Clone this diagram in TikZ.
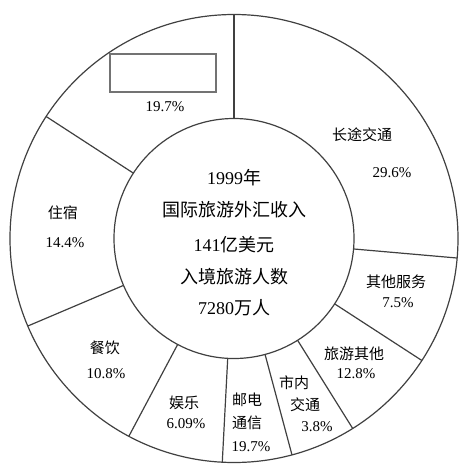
\documentclass[tikz,border=0pt]{standalone}
\usepackage{fontspec}
\setmainfont{Liberation Serif}
\newfontfamily\cjk{Noto Sans CJK SC}
\usetikzlibrary{positioning}
\tikzset{every picture/.style={line width=1.2pt,x=1pt,y=1pt},
  ring/.style={draw=black!75},
  mid/.style={font=\fontsize{18}{20}\selectfont,inner sep=0pt},
  lab/.style={font=\fontsize{15}{17}\selectfont,inner sep=0pt}}

\begin{document}
\begin{tikzpicture}
\useasboundingbox (-234,-227.5) rectangle (236,238.5);

\draw[ring] (0,0) circle (224);
\draw[ring] (0,0) circle (120);
\foreach \a in {90,147,203,242,267,285,302,327,355}
  \draw[ring] (\a:120) -- (\a:224);

% empty box
\node (box) at (-71,165.5) [minimum width=106,minimum height=38,draw=black!55,line width=1.5pt] {};
\node (p1) at (-69,131.5) [lab] {19.7\%};

% centre
\node (yr) at (0,60.5) [mid] {1999{\cjk 年}};
\node (inc) at (0,28.5) [mid] {\cjk 国际旅游外汇收入};
\node (usd) at (0,-6.5) [mid] {141{\cjk 亿美元}};
\node (vis) at (0,-38.5) [mid] {\cjk 入境旅游人数};
\node (num) at (0,-69.5) [mid] {7280{\cjk 万人}};

% segments
\node (ct) at (128,103.5) [lab] {\cjk 长途交通};
\node (ctp) at (158,65.5) [lab] {29.6\%};
\node (zs) at (-171,25.5) [lab] {\cjk 住宿};
\node (zsp) at (-169,-4.5) [lab] {14.4\%};
\node (qt) at (162,-43.5) [lab] {\cjk 其他服务};
\node (qtp) at (164,-64.5) [lab] {7.5\%};
\node (cy) at (-129,-109.5) [lab] {\cjk 餐饮};
\node (cyp) at (-128,-135.5) [lab] {10.8\%};
\node (lq) at (120,-115.5) [lab] {\cjk 旅游其他};
\node (lqp) at (122,-135.5) [lab] {12.8\%};
\node (yl) at (-50,-164.5) [lab] {\cjk 娱乐};
\node (ylp) at (-48,-185.5) [lab] {6.09\%};
\node (yd) at (13,-161.5) [lab] {\cjk 邮电};
\node (tx) at (13,-184.5) [lab] {\cjk 通信};
\node (ydp) at (17,-208.5) [lab] {19.7\%};
\node (sn) at (60,-144.5) [lab] {\cjk 市内};
\node (jt) at (71,-166.5) [lab] {\cjk 交通};
\node (snp) at (83,-188.5) [lab] {3.8\%};

\end{tikzpicture}
\end{document}
